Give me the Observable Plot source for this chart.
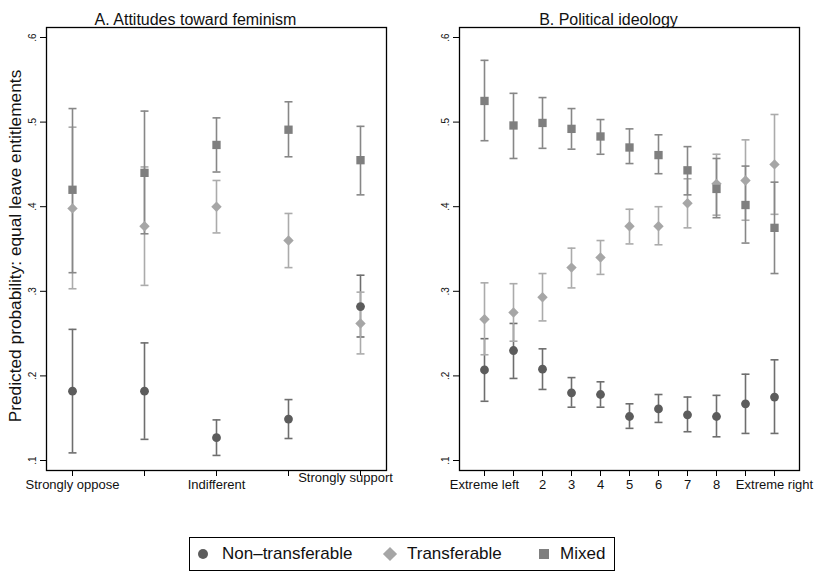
<!DOCTYPE html>
<html>
<head>
<meta charset="utf-8">
<script src="https://cdn.jsdelivr.net/npm/d3@7"></script>
<script src="https://cdn.jsdelivr.net/npm/@observablehq/plot@0.6"></script>
<style>
  html, body { margin: 0; padding: 0; background: #fff; }
  body { font-family: "Liberation Sans", Arial, Helvetica, sans-serif; }
  #wrap { position: relative; width: 815px; height: 573px; overflow: hidden; background: #fff; }
  #left { position: absolute; left: 0; top: 0; width: 407px; height: 500px; }
  #right { position: absolute; left: 407px; top: 0; width: 408px; height: 500px; }
  #legend { position: absolute; left: 189px; top: 537px; width: 426px; height: 34px; box-sizing: border-box;
    border: 1px solid #000; font-size: 17px; color: #111; }
  .item { position: absolute; top: 0; height: 32px; line-height: 32px; white-space: nowrap; }
  .sym { position: absolute; }
</style>
</head>
<body>
<div id="wrap">
  <div id="left"></div>
  <div id="right"></div>
  <div id="legend"></div>
</div>
<script>
// ---------- Data ----------
const yTitle = "Predicted probability: equal leave entitlements";
const yTicks = [0.1, 0.2, 0.3, 0.4, 0.5, 0.6];
const seriesNames = ["Non\u2013transferable", "Transferable", "Mixed"];

// Panel A: attitudes toward feminism
const feminismTitle = "A. Attitudes toward feminism";
const feminismLevels = [1, 2, 3, 4, 5];
const feminismTickLabels = ["Strongly oppose", "", "Indifferent", "", "Strongly support"];
const femNT   = [0.182, 0.182, 0.127, 0.149, 0.282];
const femNTlo = [0.109, 0.125, 0.106, 0.126, 0.246];
const femNThi = [0.255, 0.239, 0.148, 0.172, 0.319];
const femT    = [0.398, 0.377, 0.400, 0.360, 0.262];
const femTlo  = [0.303, 0.307, 0.369, 0.328, 0.226];
const femThi  = [0.494, 0.447, 0.431, 0.392, 0.299];
const femM    = [0.420, 0.440, 0.473, 0.491, 0.455];
const femMlo  = [0.322, 0.368, 0.441, 0.459, 0.414];
const femMhi  = [0.516, 0.513, 0.505, 0.524, 0.495];

// Panel B: political ideology
const ideologyTitle = "B. Political ideology";
const ideologyLevels = [0, 1, 2, 3, 4, 5, 6, 7, 8, 9, 10];
const ideologyTickLabels = ["Extreme left", "", "2", "3", "4", "5", "6", "7", "8", "", "Extreme right"];
const ideoNT   = [0.207, 0.230, 0.208, 0.180, 0.178, 0.152, 0.161, 0.154, 0.152, 0.167, 0.175];
const ideoNTlo = [0.170, 0.197, 0.184, 0.163, 0.163, 0.138, 0.145, 0.134, 0.128, 0.132, 0.132];
const ideoNThi = [0.244, 0.262, 0.232, 0.198, 0.193, 0.167, 0.178, 0.175, 0.177, 0.202, 0.219];
const ideoT    = [0.267, 0.275, 0.293, 0.328, 0.340, 0.377, 0.377, 0.404, 0.427, 0.431, 0.450];
const ideoTlo  = [0.225, 0.241, 0.265, 0.304, 0.320, 0.356, 0.355, 0.375, 0.390, 0.384, 0.391];
const ideoThi  = [0.310, 0.309, 0.321, 0.351, 0.360, 0.397, 0.400, 0.433, 0.462, 0.479, 0.509];
const ideoM    = [0.525, 0.496, 0.499, 0.492, 0.483, 0.470, 0.461, 0.443, 0.421, 0.402, 0.375];
const ideoMlo  = [0.478, 0.457, 0.469, 0.468, 0.462, 0.451, 0.439, 0.414, 0.387, 0.357, 0.321];
const ideoMhi  = [0.573, 0.534, 0.529, 0.516, 0.503, 0.492, 0.485, 0.471, 0.457, 0.448, 0.429];

// ---------- Styles ----------
const markerFill = ["#5c5c5c", "#a6a6a6", "#7f7f7f"];
const barStroke  = ["#6e6e6e", "#ababab", "#878787"];
const markerSymbol = ["circle", "diamond2", "square"];
const markerR = [4.4, 4.7, 4.7];
const fontFamily = '"Liberation Sans", Arial, Helvetica, sans-serif';

const capSymbol = {
  draw(ctx, size) {
    const w = Math.sqrt(size) / 2;
    ctx.moveTo(-w, 0);
    ctx.lineTo(w, 0);
  }
};

function rowsOf(levels, pt, lo, hi) {
  return levels.map((x, i) => ({x, pt: pt[i], lo: lo[i], hi: hi[i]}));
}

function panel({title, levels, tickLabels, series, width, marginLeft, marginRight, padding, lastLabelShift, showYTitle}) {
  const marks = [];
  series.forEach((rows, s) => {
    marks.push(Plot.ruleX(rows, {x: "x", y1: "lo", y2: "hi", stroke: barStroke[s], strokeWidth: 1.6}));
    marks.push(Plot.dot(rows, {x: "x", y: "lo", symbol: capSymbol, r: 4.5, fill: "none", stroke: barStroke[s], strokeWidth: 1.6}));
    marks.push(Plot.dot(rows, {x: "x", y: "hi", symbol: capSymbol, r: 4.5, fill: "none", stroke: barStroke[s], strokeWidth: 1.6}));
  });
  series.forEach((rows, s) => {
    marks.push(Plot.dot(rows, {x: "x", y: "pt", symbol: markerSymbol[s], r: markerR[s], fill: markerFill[s], stroke: "none"}));
  });
  const fmt = d => String(+d.toFixed(1)).replace(/^0\./, ".");
  const mainTicks = lastLabelShift ? levels.slice(0, -1) : levels;
  return Plot.plot({
    width, height: 500,
    marginLeft, marginRight, marginTop: 27, marginBottom: 30,
    style: {fontFamily, fontSize: "13px", color: "#111", background: "#fff"},
    x: {type: "point", domain: levels, padding, axis: null},
    y: {domain: [0.1 - 10 / 846, 0.6 + 10 / 846], axis: null},
    marks: [
      Plot.frame({stroke: "#000", strokeWidth: 1.3}),
      Plot.axisY({ticks: yTicks, tickSize: 6, tickFormat: () => "", label: null, stroke: "#000"}),
      Plot.text(yTicks, {y: d => d, text: fmt, frameAnchor: "left", textAnchor: "middle", lineAnchor: "middle", dx: -14, rotate: -90, fontSize: 10, fill: "#111"}),
      Plot.axisX({ticks: levels, tickSize: 6, tickFormat: () => "", label: null, stroke: "#000"}),
      Plot.axisX({ticks: mainTicks, tickSize: 0, tickPadding: 9, tickFormat: d => tickLabels[levels.indexOf(d)], label: null, fontSize: 13, fill: "#111"}),
      ...(lastLabelShift ? [Plot.axisX({ticks: levels.slice(-1), tickSize: 0, tickPadding: 9, dx: lastLabelShift[0], dy: lastLabelShift[1], tickFormat: d => tickLabels[levels.indexOf(d)], label: null, fontSize: 13, fill: "#111"})] : []),
      Plot.text([title], {frameAnchor: "top", textAnchor: "middle", dx: -21, dy: -14, fontSize: 16, fill: "#111"}),
      ...(showYTitle ? [Plot.text([yTitle], {frameAnchor: "left", textAnchor: "middle", lineAnchor: "middle", dx: -31, dy: -3, rotate: -90, fontSize: 17.3, fill: "#111"})] : []),
      ...marks
    ]
  });
}

const leftPlot = panel({
  title: feminismTitle,
  levels: feminismLevels,
  tickLabels: feminismTickLabels,
  series: [
    rowsOf(feminismLevels, femNT, femNTlo, femNThi),
    rowsOf(feminismLevels, femT, femTlo, femThi),
    rowsOf(feminismLevels, femM, femMlo, femMhi)
  ],
  width: 407, marginLeft: 46, marginRight: 21, padding: 0.335,
  lastLabelShift: [-15, -7], showYTitle: true
});
document.getElementById("left").appendChild(leftPlot);

const rightPlot = panel({
  title: ideologyTitle,
  levels: ideologyLevels,
  tickLabels: ideologyTickLabels,
  series: [
    rowsOf(ideologyLevels, ideoNT, ideoNTlo, ideoNThi),
    rowsOf(ideologyLevels, ideoT, ideoTlo, ideoThi),
    rowsOf(ideologyLevels, ideoM, ideoMlo, ideoMhi)
  ],
  width: 408, marginLeft: 52, marginRight: 16, padding: 0.86,
  lastLabelShift: null, showYTitle: false
});
document.getElementById("right").appendChild(rightPlot);

// ---------- Legend ----------
const legend = document.getElementById("legend");
const legendPos = [{sym: 8, text: 32}, {sym: 195, text: 217}, {sym: 349, text: 370}];
seriesNames.forEach((name, s) => {
  const sym = document.createElement("div");
  sym.className = "sym";
  const size = 10;
  sym.style.left = legendPos[s].sym + "px";
  sym.style.top = (16 - size / 2) + "px";
  sym.style.width = size + "px";
  sym.style.height = size + "px";
  sym.style.background = markerFill[s];
  if (s === 0) sym.style.borderRadius = "50%";
  if (s === 1) { sym.style.width = "10px"; sym.style.height = "10px"; sym.style.transform = "rotate(45deg)"; }
  legend.appendChild(sym);
  const t = document.createElement("div");
  t.className = "item";
  t.style.left = legendPos[s].text + "px";
  t.textContent = name;
  legend.appendChild(t);
});
</script>
</body>
</html>
